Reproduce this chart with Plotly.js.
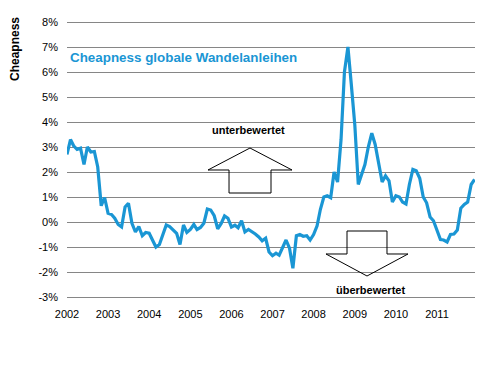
<!DOCTYPE html>
<html>
<head>
<meta charset="utf-8">
<script src="https://cdn.plot.ly/plotly-3.0.1.min.js"></script>
<style>html,body{margin:0;padding:0;background:#fff;}#chart{width:492px;height:367px;}</style>
</head>
<body>
<div id="chart"></div>
<script>
// Monthly cheapness values (%), Jan..Dec of each year
const years = [2002, 2003, 2004, 2005, 2006, 2007, 2008, 2009, 2010, 2011];
const v2002 = [2.7, 3.3, 3.05, 2.9, 2.95, 2.3, 3.0, 2.8, 2.82, 2.2, 0.65, 0.98];
const v2003 = [0.35, 0.3, 0.15, -0.1, -0.2, 0.6, 0.75, -0.05, -0.4, -0.18, -0.55, -0.42];
const v2004 = [-0.45, -0.76, -1.0, -0.9, -0.55, -0.12, -0.18, -0.3, -0.45, -0.9, -0.12, -0.42];
const v2005 = [-0.3, -0.1, -0.3, -0.22, -0.05, 0.52, 0.48, 0.25, -0.27, -0.07, 0.24, 0.15];
const v2006 = [-0.2, -0.13, -0.23, 0.05, -0.4, -0.3, -0.38, -0.48, -0.6, -0.75, -0.65, -1.2];
const v2007 = [-1.35, -1.25, -1.33, -1.05, -0.72, -1.05, -1.85, -0.55, -0.5, -0.57, -0.55, -0.72];
const v2008 = [-0.5, -0.15, 0.5, 1.0, 1.05, 0.97, 2.0, 1.6, 3.3, 6.0, 7.0, 5.5];
const v2009 = [3.9, 1.5, 1.85, 2.3, 3.0, 3.55, 3.1, 2.4, 1.6, 1.85, 1.65, 0.8];
const v2010 = [1.05, 1.0, 0.8, 0.72, 1.5, 2.1, 2.05, 1.75, 1.0, 0.77, 0.2, 0.05];
const v2011 = [-0.35, -0.7, -0.72, -0.8, -0.5, -0.48, -0.32, 0.55, 0.7, 0.8, 1.5, 1.7];
const yearValues = [v2002, v2003, v2004, v2005, v2006, v2007, v2008, v2009, v2010, v2011];

const yTickVals = [-3, -2, -1, 0, 1, 2, 3, 4, 5, 6, 7, 8];
const yTickText = ['-3%', '-2%', '-1%', '0%', '1%', '2%', '3%', '4%', '5%', '6%', '7%', '8%'];
const xTickText = years.map(String);
const xTickVals = years.map(y => y + '-01-01');

const chartTitle = 'Cheapness globale Wandelanleihen';
const yLabel = 'Cheapness';
const upLabel = 'unterbewertet';
const downLabel = '\u00fcberbewertet';

// build dates/values
const dates = [], vals = [];
years.forEach((y, i) => {
  yearValues[i].forEach((v, m) => {
    dates.push(y + '-' + String(m + 1).padStart(2, '0') + '-01');
    vals.push(v);
  });
});

const BLUE = '#1A96D4';
const FONT = 'Liberation Sans, Arial, sans-serif';

// plot area in pixels
const L = 67, R = 475, T = 20, B = 299;
function P(px, py) { return ((px - L) / (R - L)).toFixed(4) + ',' + ((B - py) / (B - T)).toFixed(4); }
function pathOf(pts) { return 'M' + pts.map(p => P(p[0], p[1])).join(' L') + ' Z'; }

const upArrow = [[250,148],[292,170],[271,170],[271,193],[229,193],[229,170],[208,170]];
const downArrow = [[347,231],[387,231],[387,254],[408,254],[367,276],[326,254],[347,254]];

const xRange = ['2002-01-01', '2011-12-05'];
const yRange = [-3.08, 8.08];

const data = [{
  x: dates, y: vals, type: 'scatter', mode: 'lines',
  line: { color: BLUE, width: 3.2 }, hoverinfo: 'skip', showlegend: false
}];

const layout = {
  width: 492, height: 367,
  margin: { l: L, r: 492 - R, t: T, b: 367 - B },
  paper_bgcolor: '#fff', plot_bgcolor: '#fff',
  showlegend: false,
  font: { family: FONT, size: 11, color: '#000' },
  xaxis: {
    type: 'date', range: xRange, tickvals: xTickVals, ticktext: xTickText,
    ticks: '', showgrid: false, showline: false, zeroline: false,
    tickfont: { family: FONT, size: 11, color: '#000' }, ticklabelstandoff: 7
  },
  xaxis2: {
    type: 'date', range: xRange, tickvals: xTickVals, overlaying: 'x',
    anchor: 'free', position: (0 - yRange[0]) / (yRange[1] - yRange[0]), side: 'bottom',
    ticks: 'inside', ticklen: 4, tickwidth: 1, tickcolor: '#000',
    showline: true, linecolor: '#000', linewidth: 1,
    showticklabels: false, showgrid: false, zeroline: false
  },
  yaxis: {
    range: yRange, tickvals: yTickVals, ticktext: yTickText,
    showgrid: true, gridcolor: '#868686', gridwidth: 1,
    zeroline: false, showline: false, ticks: '',
    tickfont: { family: FONT, size: 11, color: '#000' }, ticklabelstandoff: 8
  },
  shapes: [
    { type: 'path', xref: 'paper', yref: 'paper', path: pathOf(upArrow), line: { color: '#000', width: 1 }, fillcolor: 'rgba(0,0,0,0)' },
    { type: 'path', xref: 'paper', yref: 'paper', path: pathOf(downArrow), line: { color: '#000', width: 1 }, fillcolor: 'rgba(0,0,0,0)' }
  ],
  annotations: [
    { text: '<b>' + chartTitle + '</b>', xref: 'paper', yref: 'paper', x: (68 - L) / (R - L), y: (B - 58) / (B - T),
      xanchor: 'left', yanchor: 'middle', showarrow: false, font: { family: FONT, size: 13.4, color: BLUE } },
    { text: '<b>' + yLabel + '</b>', xref: 'paper', yref: 'paper', x: (15 - L) / (R - L), y: (B - 49) / (B - T),
      xanchor: 'center', yanchor: 'middle', textangle: -90, showarrow: false, font: { family: FONT, size: 12, color: '#000' } },
    { text: '<b>' + upLabel + '</b>', xref: 'paper', yref: 'paper', x: (248.5 - L) / (R - L), y: (B - 130) / (B - T),
      xanchor: 'center', yanchor: 'middle', showarrow: false, font: { family: FONT, size: 11, color: '#000' } },
    { text: '<b>' + downLabel + '</b>', xref: 'paper', yref: 'paper', x: (370 - L) / (R - L), y: (B - 290) / (B - T),
      xanchor: 'center', yanchor: 'middle', showarrow: false, font: { family: FONT, size: 11, color: '#000' } }
  ]
};

Plotly.newPlot('chart', data, layout, { displayModeBar: false, staticPlot: true });
</script>
</body>
</html>
